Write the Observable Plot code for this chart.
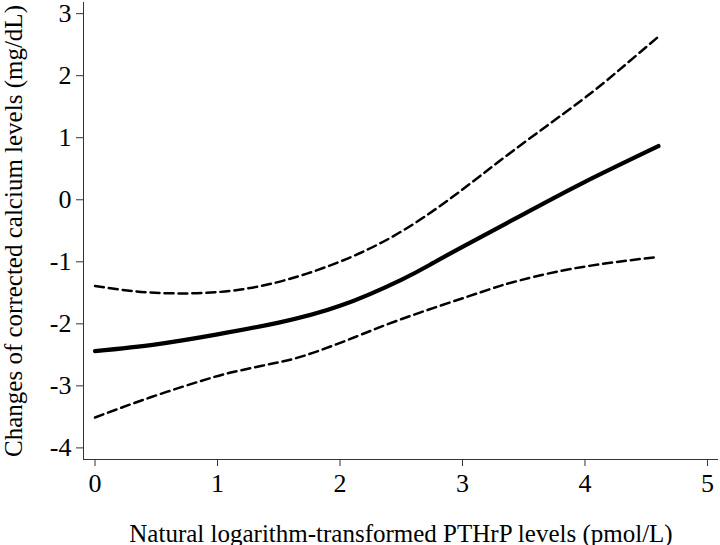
<!DOCTYPE html>
<html>
<head>
<meta charset="utf-8">
<script src="https://cdn.jsdelivr.net/npm/d3@7"></script>
<script src="https://cdn.jsdelivr.net/npm/@observablehq/plot@0.6"></script>
<style>
  html, body { margin: 0; padding: 0; background: #fff; }
</style>
</head>
<body>
<div id="chart"></div>
<script>
// Estimate (solid line)
const fitX = [0, 0.5, 1, 1.5, 2, 2.5, 2.75, 3, 3.5, 4, 4.6];
const fitY = [-2.44, -2.33, -2.17, -1.98, -1.71, -1.29, -1.03, -0.76, -0.23, 0.29, 0.866];
// Upper confidence bound (dashed)
const upperX = [0, 0.3, 0.7, 1.19, 1.73, 2.33, 2.88, 3.42, 3.97, 4.29, 4.6];
const upperY = [-1.39, -1.47, -1.51, -1.447, -1.19, -0.70, -0.01, 0.80, 1.60, 2.11, 2.63];
// Lower confidence bound (dashed)
const lowerX = [0, 0.46, 0.95, 1.19, 1.45, 1.73, 2.14, 2.55, 3.15, 3.41, 3.9, 4.6];
const lowerY = [-3.51, -3.18, -2.87, -2.75, -2.64, -2.50, -2.20, -1.89, -1.49, -1.33, -1.11, -0.92];

const xTicks = [0, 1, 2, 3, 4, 5];
const yTicks = [-4, -3, -2, -1, 0, 1, 2, 3];
const xTitle = "Natural logarithm-transformed PTHrP levels (pmol/L)";
const yTitle = "Changes of corrected calcium levels (mg/dL)";

const fit = fitX.map((x, i) => ({x, y: fitY[i]}));
const upper = upperX.map((x, i) => ({x, y: upperY[i]}));
const lower = lowerX.map((x, i) => ({x, y: lowerY[i]}));

const xDomain = [-0.094, 5.09];
const yDomain = [-4.187, 3.18];
const fmt = d => String(d).replace("\u2212", "-");

const chart = Plot.plot({
  width: 720,
  height: 545,
  marginLeft: 83,
  marginRight: 2,
  marginTop: 2,
  marginBottom: 86,
  x: {domain: xDomain},
  y: {domain: yDomain},
  style: {fontFamily: "'Liberation Serif', 'Times New Roman', serif", fontSize: "26px", color: "#000", background: "#fff"},
  marks: [
    Plot.ruleX([xDomain[0]], {stroke: "#333", strokeWidth: 1}),
    Plot.ruleY([yDomain[0]], {stroke: "#333", strokeWidth: 1}),
    Plot.axisY({ticks: yTicks, tickSize: 7, tickPadding: 5, stroke: "#333", fontSize: 26, tickFormat: fmt, label: null}),
    Plot.axisX({ticks: xTicks, tickSize: 7, tickPadding: 7, stroke: "#333", fontSize: 26, tickFormat: fmt, label: null}),
    Plot.text([yTitle], {frameAnchor: "left", dx: -79, rotate: -90, lineAnchor: "top", textAnchor: "middle", fontSize: 25, fill: "#000"}),
    Plot.text([xTitle], {frameAnchor: "bottom", dy: 82, lineAnchor: "bottom", textAnchor: "middle", fontSize: 25, fill: "#000"}),
    Plot.line(upper, {x: "x", y: "y", curve: "natural", stroke: "#000", strokeWidth: 2.5, strokeDasharray: "9,5"}),
    Plot.line(lower, {x: "x", y: "y", curve: "natural", stroke: "#000", strokeWidth: 2.5, strokeDasharray: "9,5"}),
    Plot.line(fit, {x: "x", y: "y", curve: "natural", stroke: "#000", strokeWidth: 4.2})
  ]
});
document.getElementById("chart").appendChild(chart);
</script>
</body>
</html>
